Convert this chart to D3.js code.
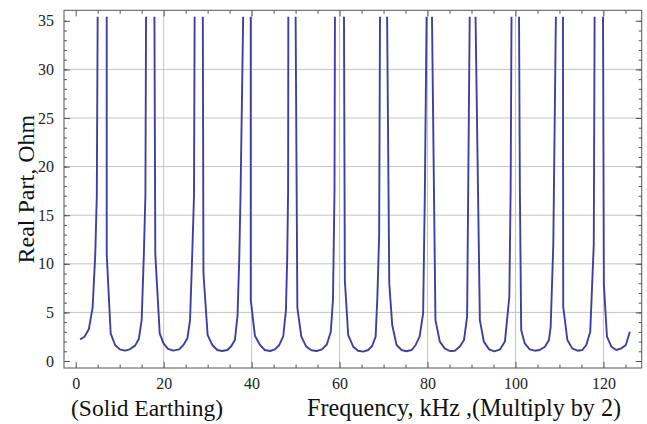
<!DOCTYPE html>
<html>
<head>
<meta charset="utf-8">
<script src="https://cdn.jsdelivr.net/npm/d3@7"></script>
<style>
  body { margin: 0; background: #fff; }
  text { font-family: "Liberation Serif", "Times New Roman", serif; }
</style>
</head>
<body>
<svg id="chart" width="647" height="424"></svg>
<script>
// frequency (kHz, x2) and real part of impedance (Ohm)
// values above 35.4 are off the plot range, 36 just marks where the line leaves the frame
var freqKHz = [
  1.0, 2.0, 3.0, 3.85, 4.45, 4.8, 5.0,
  7.05, 7.05, 7.95, 8.95, 10.05, 11.2, 12.3, 13.5, 14.35, 15.0, 15.5, 15.85, 16.0,
  17.9, 18.1, 19.1, 19.95, 21.0, 22.2, 23.5, 24.5, 25.4, 26.0, 26.5, 26.9, 27.05,
  28.9, 29.05, 30.0, 31.05, 32.2, 33.3, 34.5, 35.4, 36.2, 36.8, 37.2, 37.5, 38.1,
  39.8, 39.8, 40.75, 41.9, 43.0, 44.2, 45.3, 46.3, 47.2, 47.8, 48.1, 48.3, 48.35,
  50.0, 50.4, 51.3, 52.4, 53.6, 54.8, 56.0, 57.1, 58.0, 58.5, 58.85, 58.95,
  61.0, 61.2, 61.96, 63.1, 64.2, 65.4, 66.5, 67.4, 68.2, 68.6, 69.0, 69.2,
  70.8, 71.3, 71.97, 72.96, 74.1, 75.2, 76.4, 77.3, 78.2, 79.0, 79.4, 79.8,
  81.0, 81.8, 82.8, 83.9, 85.07, 86.2, 87.3, 88.3, 89.0, 89.6,
  90.9, 91.9, 92.8, 94.0, 95.2, 96.5, 97.6, 98.6, 98.9, 99.1,
  100.8, 101.0, 101.3, 102.1, 103.25, 104.4, 105.5, 106.7, 107.6, 108.0, 108.6, 109.2,
  110.8, 110.85, 111.8, 112.9, 114.1, 115.2, 116.1, 117.0, 117.8, 118.0,
  119.9, 120.1, 120.8, 121.8, 122.9, 124.1, 125.1, 126.0
];
var realOhm = [
  2.23, 2.5, 3.3, 5.5, 11.0, 17.0, 36,
  36, 11.0, 2.85, 1.65, 1.2, 1.06, 1.2, 1.58, 2.26, 4.2, 11.0, 17.0, 36,
  36, 11.0, 2.85, 1.82, 1.24, 1.06, 1.2, 1.65, 2.33, 4.2, 11.0, 17.0, 36,
  36, 9.0, 2.67, 1.65, 1.13, 1.03, 1.13, 1.54, 2.16, 4.7, 10.7, 17.6, 36,
  36, 6.3, 2.6, 1.65, 1.13, 1.03, 1.2, 1.65, 2.57, 5.2, 10.7, 17.6, 36,
  36, 5.5, 2.5, 1.5, 1.1, 1.03, 1.2, 1.7, 3.0, 6.3, 17.6, 36,
  36, 8.3, 2.67, 1.47, 1.06, 0.96, 1.13, 1.54, 2.5, 6.6, 13.0, 36,
  36, 8.0, 3.7, 1.65, 1.13, 1.0, 1.13, 1.65, 2.5, 4.9, 17.6, 36,
  36, 4.2, 1.99, 1.3, 1.03, 1.06, 1.47, 2.16, 4.56, 36,
  36, 4.2, 1.99, 1.2, 1.0, 1.2, 2.0, 6.6, 17.6, 36,
  36, 17.6, 3.2, 1.82, 1.2, 1.06, 1.13, 1.47, 2.16, 3.5, 12.0, 36,
  36, 5.6, 2.16, 1.3, 1.06, 1.13, 1.65, 3.0, 12.0, 36,
  36, 7.9, 2.5, 1.47, 1.13, 1.3, 1.65, 3.0
];

var xMajorTicks = [0, 20, 40, 60, 80, 100, 120];
var xMinorTicks = [5, 10, 15, 25, 30, 35, 45, 50, 55, 65, 70, 75, 85, 90, 95, 105, 110, 115, 125];
var yMajorTicks = [0, 5, 10, 15, 20, 25, 30, 35];
var xGrid = [20, 40, 60, 80, 100, 120];
var yGrid = [5, 10, 15, 20, 25, 30];

var svg = d3.select("#chart");
var plotLeft = 64, plotRight = 641.7, plotTop = 10.3, plotBottom = 368;

var x = d3.scaleLinear().domain([-2.66, 128.7]).range([plotLeft, plotRight]);
var y = d3.scaleLinear().domain([-0.72, 36.08]).range([plotBottom, plotTop]);

svg.append("rect").attr("width", 647).attr("height", 424).attr("fill", "#fff");

// grid
svg.append("g").selectAll("line").data(xGrid).enter().append("line")
  .attr("x1", d => x(d)).attr("x2", d => x(d))
  .attr("y1", plotTop).attr("y2", plotBottom)
  .attr("stroke", "#c4c4c4").attr("stroke-width", 1);
svg.append("g").selectAll("line").data(yGrid).enter().append("line")
  .attr("y1", d => y(d)).attr("y2", d => y(d))
  .attr("x1", plotLeft).attr("x2", plotRight)
  .attr("stroke", "#c4c4c4").attr("stroke-width", 1);

// curve, clipped at the plot range
svg.append("clipPath").attr("id", "clip").append("rect")
  .attr("x", plotLeft).attr("y", y(35.42))
  .attr("width", plotRight - plotLeft).attr("height", plotBottom - y(35.42));

var line = d3.line()
  .x(i => x(freqKHz[i]))
  .y(i => y(realOhm[i]));

svg.append("path")
  .attr("clip-path", "url(#clip)")
  .attr("d", line(d3.range(freqKHz.length)))
  .attr("fill", "none")
  .attr("stroke", "#3f3fa0")
  .attr("stroke-width", 1.9)
  .attr("stroke-linejoin", "round");

// frame
svg.append("rect")
  .attr("x", plotLeft).attr("y", plotTop)
  .attr("width", plotRight - plotLeft).attr("height", plotBottom - plotTop)
  .attr("fill", "none").attr("stroke", "#555").attr("stroke-width", 1);

function styleAxis(g) {
  g.select(".domain").remove();
  g.selectAll(".tick line").attr("stroke", "#555");
  g.selectAll("text").attr("font-family", "Liberation Serif").attr("font-size", 16).attr("fill", "#222");
}

// ticks, all pointing inwards
svg.append("g").attr("transform", "translate(" + plotLeft + ",0)")
  .call(d3.axisLeft(y).tickValues(yMajorTicks).tickSize(-6).tickPadding(10).tickFormat(d3.format("d")))
  .call(styleAxis);
svg.append("g").attr("transform", "translate(" + plotLeft + ",0)")
  .call(d3.axisLeft(y).tickValues(d3.range(0, 36)).tickSize(-3).tickFormat(""))
  .call(styleAxis);
svg.append("g").attr("transform", "translate(" + plotRight + ",0)")
  .call(d3.axisRight(y).tickValues(yMajorTicks).tickSize(-6).tickFormat(""))
  .call(styleAxis);
svg.append("g").attr("transform", "translate(" + plotRight + ",0)")
  .call(d3.axisRight(y).tickValues(d3.range(0, 36)).tickSize(-3).tickFormat(""))
  .call(styleAxis);

svg.append("g").attr("transform", "translate(0," + plotBottom + ")")
  .call(d3.axisBottom(x).tickValues(xMajorTicks).tickSize(-6).tickPadding(10).tickFormat(d3.format("d")))
  .call(styleAxis);
svg.append("g").attr("transform", "translate(0," + plotBottom + ")")
  .call(d3.axisBottom(x).tickValues(xMinorTicks).tickSize(-3.5).tickFormat(""))
  .call(styleAxis);
svg.append("g").attr("transform", "translate(0," + plotTop + ")")
  .call(d3.axisTop(x).tickValues(xMajorTicks).tickSize(-6).tickFormat(""))
  .call(styleAxis);
svg.append("g").attr("transform", "translate(0," + plotTop + ")")
  .call(d3.axisTop(x).tickValues(xMinorTicks).tickSize(-3.5).tickFormat(""))
  .call(styleAxis);

// axis titles
svg.append("text")
  .attr("transform", "translate(34," + ((plotTop + plotBottom) / 2) + ") rotate(-90)")
  .attr("text-anchor", "middle")
  .attr("font-size", 24)
  .attr("fill", "#111")
  .text("Real Part, Ohm");

svg.append("text")
  .attr("x", 71).attr("y", 416)
  .attr("font-size", 23.5)
  .attr("fill", "#111")
  .text("(Solid Earthing)");

svg.append("text")
  .attr("x", 307).attr("y", 416)
  .attr("font-size", 24.2)
  .attr("fill", "#111")
  .text("Frequency, kHz ,(Multiply by 2)");
</script>
</body>
</html>
